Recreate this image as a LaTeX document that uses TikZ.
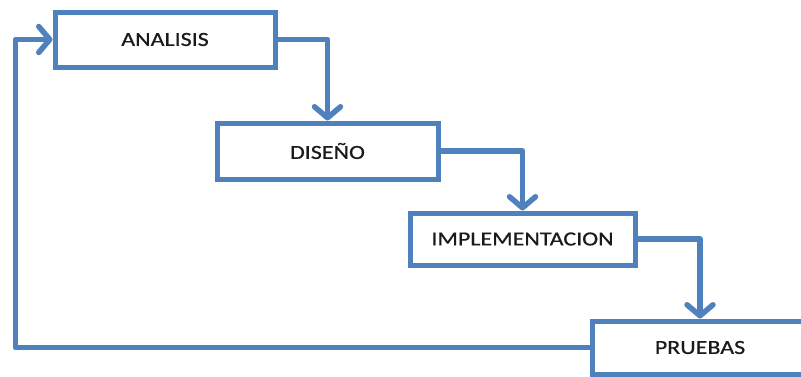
\documentclass[tikz,border=0pt]{standalone}
\usepackage{fontspec}
\setmainfont{Carlito}[FakeStretch=1.2, FakeBold=0.6]
\usetikzlibrary{arrows.meta}
\definecolor{flowblue}{HTML}{4F81BD}
\definecolor{labelgray}{HTML}{1A1A1A}
\tikzset{
  stagebox/.style={draw=flowblue, line width=5pt, fill=white,
    minimum width=#1, inner sep=0pt, font=\fontsize{20}{24}\selectfont,
    text=labelgray, line join=miter},
  flowarrow/.style={draw=flowblue, line width=5.5pt, line join=round,
    -{Straight Barb[length=11pt, width=26pt, round]}},
}
\begin{document}
\begin{tikzpicture}[x=1pt, y=-1pt]
  \useasboundingbox (0,0) rectangle (801,376);
  \clip (0,0) rectangle (801,376);
  \node[stagebox=220pt, minimum height=55pt] (ana) at (165,39.5) {ANALISIS};
  \node[stagebox=221pt, minimum height=56pt] (dis) at (327.5,151) {DISEÑO};
  \node[stagebox=225pt, minimum height=52pt] (imp) at (522.5,239) {IMPLEMENTACION};
  \node[stagebox=216pt, minimum height=53pt] (pru) at (700,347.5) {PRUEBAS};
  \coordinate (loopbot) at (15.5,347.5);
  \coordinate (looptop) at (15.5,39.5);
  \draw[flowarrow] (ana.east) -| (dis.north);
  \draw[flowarrow] (dis.east) -| (imp.north);
  \draw[flowarrow] (imp.east) -| (pru.north);
  \draw[flowarrow] (pru.west) -- (loopbot) -- (looptop) -- (ana.west);
\end{tikzpicture}
\end{document}
